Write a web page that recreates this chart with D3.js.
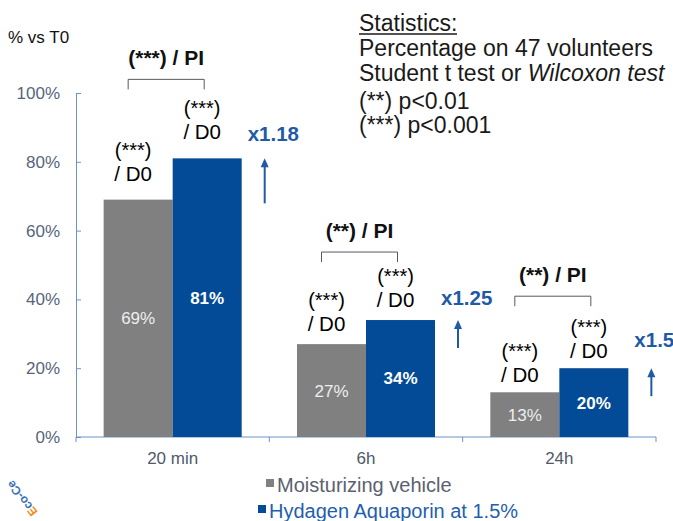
<!DOCTYPE html>
<html>
<head>
<meta charset="utf-8">
<script src="https://cdn.jsdelivr.net/npm/d3@7"></script>
<style>
  body { margin: 0; background: #fff; }
  text { font-family: "Liberation Sans", Arial, sans-serif; }
</style>
</head>
<body>
<div class="chart"></div>
<script>
// data
const categories = ["20 min", "6h", "24h"];
const seriesNames = ["Moisturizing vehicle", "Hydagen Aquaporin at 1.5%"];
const vehicle = [69, 27, 13];
const hydagen = [81, 34, 20];
const yTicks = [0, 20, 40, 60, 80, 100];
const pairSig = ["(***) / PI", "(**) / PI", "(**) / PI"];
const barSig = ["(***)", "/ D0"];
const foldChange = ["x1.18", "x1.25", "x1.5"];
const statsLines = ["Percentage on 47 volunteers", "Student t test or ", "(**) p<0.01", "(***) p<0.001"];

let outWidth = 673, outHeight = 521;
let margin = {top: 93, left: 76, right: 17, bottom: 84};

const grey = "#808080", blue = "#034b97", axisCol = "#6d93c8",
	arrowCol = "#1f5aa6", tickText = "#56657c";

const svg = d3.select('.chart').append('svg')
	.attr("width", outWidth)
	.attr("height", outHeight);

const x = d3.scaleBand()
	.domain(categories)
	.range([margin.left, outWidth - margin.right])
	.paddingInner(0.286)
	.paddingOuter(0.143);
const xs = d3.scaleBand()
	.domain([0, 1])
	.range([0, x.bandwidth()]);
const y = d3.scaleLinear()
	.domain([0, 100])
	.range([outHeight - margin.bottom, margin.top]);

// y axis, inside ticks
const yAxis = d3.axisLeft(y)
	.tickValues(yTicks)
	.tickFormat(d => d + "%")
	.tickSizeInner(-5)
	.tickSizeOuter(0)
	.tickPadding(16);
const ya = svg.append("g")
	.attr("class", "axis y-axis")
	.attr("transform", `translate(${margin.left},0)`)
	.call(yAxis);
ya.select(".domain").attr("stroke", axisCol);
ya.selectAll(".tick line").attr("stroke", axisCol);
ya.selectAll(".tick text")
	.attr("fill", tickText)
	.style("font-size", "17px");

// x axis: labels from the band scale, ticks at band boundaries
const xAxis = d3.axisBottom(x).tickSize(0).tickPadding(15);
const xa = svg.append("g")
	.attr("class", "axis x-axis")
	.attr("transform", `translate(0,${y(0)})`)
	.call(xAxis);
xa.select(".domain").remove();
xa.selectAll(".tick text")
	.attr("fill", "#4f5a6a")
	.style("font-size", "17px");

const step = x.step();
const edges = categories.map(c => x(c) - step * 0.143).concat([outWidth - margin.right]);
svg.append("line")
	.attr("x1", margin.left).attr("x2", outWidth - margin.right)
	.attr("y1", y(0)).attr("y2", y(0))
	.attr("stroke", axisCol);
svg.selectAll(".xtick")
	.data(edges)
	.enter()
	.append("line")
	.attr("x1", d => d).attr("x2", d => d)
	.attr("y1", y(0)).attr("y2", y(0) + 5)
	.attr("stroke", axisCol);

// bars
const bars = categories.flatMap((c, i) => [
	{c: c, i: i, s: 0, v: vehicle[i]},
	{c: c, i: i, s: 1, v: hydagen[i]}
]);
svg.selectAll("rect.bar")
	.data(bars)
	.enter()
	.append("rect")
	.attr("class", "bar")
	.attr("x", d => x(d.c) + xs(d.s))
	.attr("y", d => y(d.v))
	.attr("width", xs.bandwidth())
	.attr("height", d => y(0) - y(d.v))
	.attr("fill", d => d.s ? blue : grey);

svg.selectAll("text.val")
	.data(bars)
	.enter()
	.append("text")
	.attr("class", "val")
	.attr("x", d => x(d.c) + xs(d.s) + xs.bandwidth() / 2)
	.attr("y", d => (y(d.v) + y(0)) / 2)
	.attr("dy", "0.35em")
	.attr("text-anchor", "middle")
	.attr("fill", d => d.s ? "#fff" : "#eeeeee")
	.style("font-weight", d => d.s ? "bold" : "normal")
	.style("font-size", "17px")
	.text(d => d.v + "%");

// (***) / D0 above each bar
const d0Gap = [19, 13, 10];
const sig = svg.selectAll("g.sig")
	.data(bars)
	.enter()
	.append("g")
	.attr("class", "sig")
	.attr("transform", d => `translate(${x(d.c) + xs(d.s) + xs.bandwidth() / 2 - 5},${y(d.v) - d0Gap[d.i]})`);
sig.append("text")
	.attr("y", -24)
	.attr("text-anchor", "middle")
	.style("font-size", "20px")
	.text(barSig[0]);
sig.append("text")
	.attr("text-anchor", "middle")
	.style("font-size", "20.5px")
	.text(barSig[1]);

// brackets between the pair
const bracketGap = [79, 68, 72];
categories.forEach((c, i) => {
	const top = y(Math.max(vehicle[i], hydagen[i])) - bracketGap[i];
	const x1 = x(c) + xs(0) + xs.bandwidth() / 2 - 10;
	const x2 = x(c) + xs(1) + xs.bandwidth() / 2 - 3;
	svg.append("path")
		.attr("d", `M${x1},${top + 10}V${top}H${x2}V${top + 10}`)
		.attr("fill", "none")
		.attr("stroke", "#595959")
		.attr("stroke-width", 1);
	svg.append("text")
		.attr("x", (x1 + x2) / 2)
		.attr("y", top - 14)
		.attr("text-anchor", "middle")
		.style("font-size", "21px")
		.style("font-weight", "bold")
		.attr("fill", "#111")
		.text(pairSig[i]);
});

// fold change arrows
const arrowLen = [45, 28, 28];
const foldGap = [17, 15, 21];
categories.forEach((c, i) => {
	const ax = x(c) + x.bandwidth() + 23;
	const top = y(hydagen[i]);
	svg.append("line")
		.attr("x1", ax).attr("x2", ax)
		.attr("y1", top + 6).attr("y2", top + arrowLen[i])
		.attr("stroke", arrowCol)
		.attr("stroke-width", 2);
	svg.append("path")
		.attr("d", `M${ax - 4},${top + 9}L${ax},${top}L${ax + 4},${top + 9}Z`)
		.attr("fill", arrowCol);
	svg.append("text")
		.attr("x", ax - 17)
		.attr("y", top - foldGap[i])
		.attr("fill", arrowCol)
		.style("font-size", "20.5px")
		.style("font-weight", "bold")
		.text(foldChange[i]);
});

// y title
svg.append("text")
	.attr("x", 8)
	.attr("y", 43)
	.style("font-size", "17px")
	.attr("fill", "#111")
	.text("% vs T0");

// statistics block
const st = svg.append("g").attr("transform", "translate(359,0)")
	.style("font-size", "23px").attr("fill", "#1a1a1a");
st.append("text").attr("y", 31).text("Statistics:");
st.append("line")
	.attr("x1", 0).attr("x2", 98)
	.attr("y1", 34).attr("y2", 34)
	.attr("stroke", "#1a1a1a").attr("stroke-width", 1.5);
const statY = [56, 81, 109, 133];
statsLines.forEach((s, i) => {
	const t = st.append("text").attr("y", statY[i]).text(s);
	if (i === 1) t.append("tspan").style("font-style", "italic").text("Wilcoxon test");
});

// legend
const legX = [266, 258];
const legCol = ["#5a6170", "#1f5fae"];
seriesNames.forEach((n, i) => {
	const ly = 488 + i * 26;
	svg.append("rect")
		.attr("x", legX[i]).attr("y", ly - 9)
		.attr("width", 8).attr("height", 8)
		.attr("fill", i ? blue : grey);
	svg.append("text")
		.attr("x", legX[i] + 11)
		.attr("y", ly + 4)
		.attr("fill", legCol[i])
		.style("font-size", "20px")
		.text(n);
});

// logo fragment bottom left
const logo = svg.append("text")
	.attr("transform", "translate(38,512) rotate(-128)")
	.style("font-size", "12px")
	.style("font-weight", "bold");
logo.append("tspan").attr("fill", "#f08a24").text("E");
logo.append("tspan").attr("fill", "#3a72b8").text("co-Ce");
</script>
</body>
</html>
